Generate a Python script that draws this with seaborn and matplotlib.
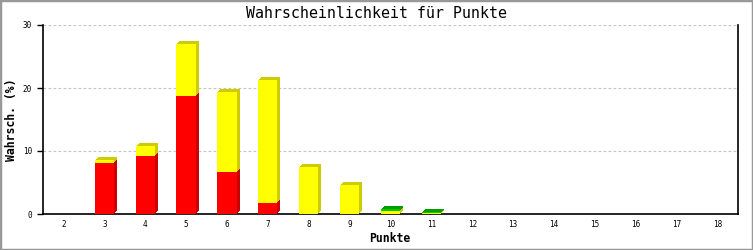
import matplotlib
matplotlib.use("Agg")
import matplotlib.pyplot as plt
import matplotlib.transforms as mtransforms
from matplotlib.patches import Rectangle
import seaborn as sns
import numpy as np

# ---- data ----
categories = [str(v) for v in range(2, 19)]
red_vals    = [0, 8.15, 9.2, 18.75, 6.7, 1.75, 0, 0, 0, 0, 0, 0, 0, 0, 0, 0, 0]
yellow_vals = [0, 0.45, 1.6, 8.25, 12.7, 19.55, 7.5, 4.6, 0.5, 0.1, 0, 0, 0, 0, 0, 0, 0]
green_vals  = [0, 0, 0, 0, 0, 0, 0, 0, 0.3, 0.25, 0, 0, 0, 0, 0, 0, 0]
y_ticks = [0, 10, 20, 30]

title = "Wahrscheinlichkeit für Punkte"
xlabel = "Punkte"
ylabel = "Wahrsch. (%)"

sns.set_style("white")
plt.rcParams["font.family"] = ["DejaVu Sans Mono", "DejaVu Sans"]
plt.rcParams["text.color"] = "black"

fig = plt.figure(figsize=(7.53, 2.5), dpi=100)
ax = fig.add_axes([43 / 753, 1 - 214 / 250, (738 - 43) / 753, (214 - 25) / 250])

red = np.array(red_vals)
yel = np.array(yellow_vals)
grn = np.array(green_vals)
layers = [
    (red, np.zeros_like(red), "#FF0000", "#CC0000"),
    (yel, red, "#FFFF00", "#CCCC00"),
    (grn, red + yel, "#00CC00", "#009E00"),
]
W = 0.47

# shadows (3D side / top), drawn as stair steps
for vals, bottoms, front, shade in layers:
    for k in (1, 2, 3):
        tr = mtransforms.offset_copy(ax.transData, fig=fig, x=k, y=k, units="dots")
        sns.barplot(x=categories, y=vals, bottom=bottoms, color=shade, saturation=1,
                    width=W, linewidth=0, transform=tr, ax=ax, zorder=2)
# fronts
for vals, bottoms, front, shade in layers:
    sns.barplot(x=categories, y=vals, bottom=bottoms, color=front, saturation=1,
                width=W, linewidth=0, ax=ax, zorder=3)

ax.set_xlim(-0.5, len(categories) - 0.5)
ax.set_ylim(0, 30)
ax.set_yticks(y_ticks)
ax.set_yticklabels([str(t) for t in y_ticks])

for y in y_ticks[1:]:
    ax.axhline(y, color="#C4C4C4", linewidth=0.8, linestyle=(0, (2.5, 2.0)), zorder=1)

for side in ("left", "bottom", "right"):
    ax.spines[side].set_visible(True)
    ax.spines[side].set_color("black")
    ax.spines[side].set_linewidth(1.2)
ax.spines["top"].set_visible(False)

ax.tick_params(axis="y", which="both", left=True, length=4, width=1, pad=4,
               labelsize=5.5, colors="black")
ax.tick_params(axis="x", which="both", bottom=False, length=0, pad=4.5,
               labelsize=5.5, colors="black")

ax.set_xlabel("")
ax.set_ylabel("")
fig.text(0.5, 1 - 13 / 250, title, ha="center", va="center", fontsize=10.7, color="black")
fig.text(390 / 753, 1 - 239 / 250, xlabel, ha="center", va="center", fontsize=8.3,
         fontweight="bold", color="black")
fig.text(12 / 753, 1 - 120 / 250, ylabel, ha="center", va="center", fontsize=8.3,
         fontweight="bold", rotation=90, color="black")

fig.patches.append(Rectangle((0, 0), 1, 1, transform=fig.transFigure, fill=False,
                             edgecolor="#999999", linewidth=2.5))

fig.savefig("out.png", dpi=100)
